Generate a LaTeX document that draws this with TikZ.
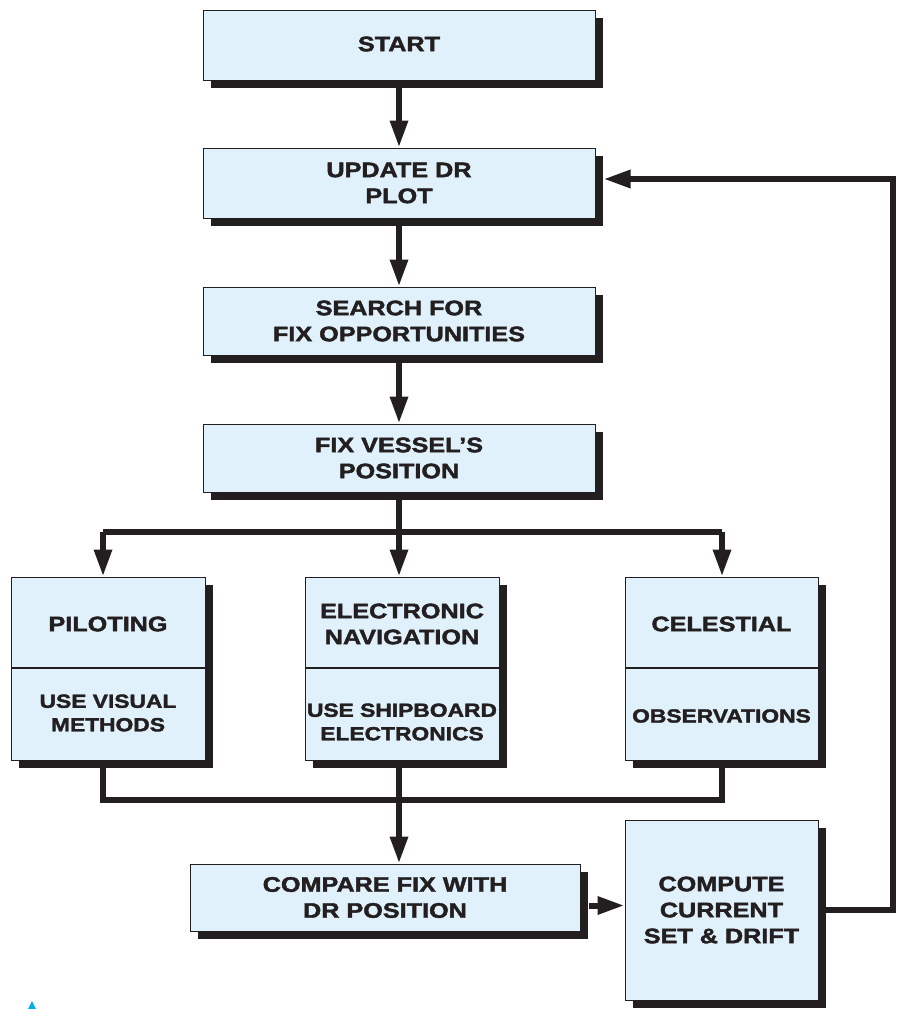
\documentclass[tikz,border=0pt]{standalone}
\usepackage{fontspec}
\newfontfamily\boxfont[FakeStretch=1.2,FakeBold=2]{Liberation Sans}
\usetikzlibrary{arrows.meta,shadows}
\definecolor{boxfill}{HTML}{E0F1FB}
\definecolor{ink}{HTML}{231F20}
\definecolor{tri}{HTML}{00AEEF}
\tikzset{
  flowbox/.style={draw=ink, line width=1pt, fill=boxfill, rectangle, inner sep=0pt,
    drop shadow={shadow xshift=8pt, shadow yshift=-8pt, fill=ink, opacity=1}},
  bigtxt/.style={font=\boxfont\bfseries\fontsize{21}{26}\selectfont, text=ink, align=center, inner sep=0pt},
  smalltxt/.style={font=\boxfont\bfseries\fontsize{19}{23.5}\selectfont, text=ink, align=center, inner sep=0pt},
  conn/.style={draw=ink, line width=6pt, line join=miter},
  arr/.style={conn, -{Triangle[width=17pt,length=27pt]}},
  divider/.style={draw=ink, line width=1.5pt}
}
\begin{document}
\begin{tikzpicture}[x=1pt,y=-1pt]
\useasboundingbox (0,0) rectangle (898,1009);
% main boxes
\node[flowbox, minimum width=392pt, minimum height=70pt] (start) at (399,45) {};
\node[bigtxt] (startT) at (399,44) {START};
\node[flowbox, minimum width=392pt, minimum height=70pt] (update) at (399,183) {};
\node[bigtxt] (updateT) at (update) {UPDATE DR\\PLOT};
\node[flowbox, minimum width=392pt, minimum height=68pt] (search) at (399,321) {};
\node[bigtxt] (searchT) at (search) {SEARCH FOR\\FIX OPPORTUNITIES};
\node[flowbox, minimum width=392pt, minimum height=68pt] (fix) at (399,458) {};
\node[bigtxt] (fixT) at (fix) {FIX VESSEL’S\\POSITION};
% split boxes
\node[flowbox, minimum width=194pt, minimum height=183pt] (pilot) at (108,668.5) {};
\node[flowbox, minimum width=194pt, minimum height=183pt] (elec) at (402,668.5) {};
\node[flowbox, minimum width=193pt, minimum height=183pt] (cel) at (721.5,668.5) {};
\draw[divider] (pilot.west |- 0,668) -- (pilot.east |- 0,668);
\draw[divider] (elec.west |- 0,668) -- (elec.east |- 0,668);
\draw[divider] (cel.west |- 0,668) -- (cel.east |- 0,668);
\node[bigtxt] (pilotA) at (108,624) {PILOTING};
\node[smalltxt] (pilotB) at (108,713) {USE VISUAL\\METHODS};
\node[bigtxt] (elecA) at (402,624) {ELECTRONIC\\NAVIGATION};
\node[smalltxt] (elecB) at (402,722) {USE SHIPBOARD\\ELECTRONICS};
\node[bigtxt] (celA) at (721.5,624) {CELESTIAL};
\node[smalltxt] (celB) at (721.5,716) {OBSERVATIONS};
% bottom boxes
\node[flowbox, minimum width=390pt, minimum height=67pt] (compare) at (385,897.5) {};
\node[bigtxt] (compareT) at (compare) {COMPARE FIX WITH\\DR POSITION};
\node[flowbox, minimum width=193pt, minimum height=180pt] (compute) at (721.5,910) {};
\node[bigtxt] (computeT) at (compute) {COMPUTE\\CURRENT\\SET \& DRIFT};
% coordinates
\coordinate (br) at (399,532);
\coordinate (pL) at (103,532);
\coordinate (cR) at (722,532);
\coordinate (mg) at (399,800);
\coordinate (mL) at (103,800);
\coordinate (mR) at (722,800);
\coordinate (fb) at (893,179);
% connectors
\draw[arr] (start.south) -- (update.north);
\draw[arr] (update.south) -- (search.north);
\draw[arr] (search.south) -- (fix.north);
\draw[conn] (fix.south) -- (br);
\draw[conn] (pL) -- (cR);
\draw[arr] (pL) -- (pL |- pilot.north);
\draw[arr] (br) -- (br |- elec.north);
\draw[arr] (cR) -- (cR |- cel.north);
\draw[conn] (mL |- pilot.south) -- (mL) -- (mR) -- (mR |- cel.south);
\draw[arr] (mg |- elec.south) -- (mg |- compare.north);
\path ([shift={(8pt,-8pt)}]compare.east) coordinate (ce);
\draw[arr] (ce) -- (ce -| compute.west);
\draw[arr] (compute.east) -| (fb) -- ([xshift=8pt]update.east |- fb);
% small marker
\fill[tri] (28,1009) -- (32,1001) -- (36,1009) -- cycle;
\end{tikzpicture}
\end{document}
